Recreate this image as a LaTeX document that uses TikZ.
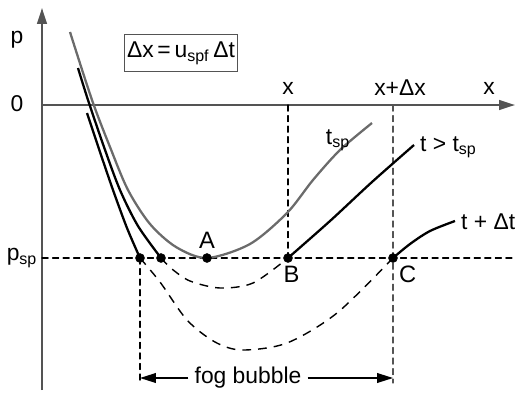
\documentclass[tikz,border=0pt]{standalone}
\usepackage{fontspec}
\setmainfont{Liberation Sans}
\usetikzlibrary{arrows.meta}
\usepackage{tkz-euclide}
\definecolor{AxisClr}{gray}{0.33}
\definecolor{CurveClr}{gray}{0.42}

\begin{document}
\begin{tikzpicture}[x=0.02cm,y=-0.02cm,font=\fontsize{13}{15}\selectfont,
  tip/.style={-{Triangle[length=9pt,width=5.5pt]}},
  dashline/.style={line width=0.6pt,dash pattern=on 3.5pt off 2.5pt},
  dashcurve/.style={line width=0.8pt,dash pattern=on 5pt off 4pt},
  ptlabel/.style={font=\fontsize{13.5}{15}\selectfont}]
\useasboundingbox (0,0) rectangle (515,393);
\tkzSetUpLine[line width=1.3pt,color=black]
\tkzSetUpPoint[fill=black]

\tkzDefPoints{42/390/O,42/8/P,42/105/Z,515/105/X,42/258/S,515/258/T,
  140/258/E,161/258/F,207/258/A,288/258/B,393/258/C,
  288/105/U,393/105/V,140/383/G,393/383/H}

% axes
\draw[AxisClr,line width=1.1pt,tip] (O) -- (P);
\draw[AxisClr,line width=1.1pt,tip] (Z) -- (X);
\node (lp) at (17,40) {p};
\node (l0) at (17,104) {0};
\node (lpsp) at (22,258) {p\textsubscript{sp}};
\node (lx1) at (288,88) {x};
\node (lx2) at (400,88) {x+Δx};
\node (lx3) at (489,88) {x};

% guide lines
\tkzDrawSegments[dashline](S,T U,B E,G)
\tkzDrawSegments[dashline,color=AxisClr](V,H)

% formula box
\node[draw=AxisClr,line width=0.6pt,inner xsep=1.5pt,inner ysep=4pt] (box) at (181,53)
  {Δx\,=\,u\textsubscript{spf}\,Δt};

% curves
\draw[CurveClr,line width=1.3pt] plot[smooth] coordinates
  {(70,32) (92,100) (110,147) (128,190) (150,224) (176,247) (207,258)
   (250,244) (287,213) (313,180) (340,150) (372,123)};
\draw[line width=1.3pt] plot[smooth] coordinates
  {(78,68) (88,100) (104,147) (120,190) (138,226) (161,258)};
\draw[line width=1.3pt] plot[smooth] coordinates
  {(87,113) (100,152) (113,190) (127,228) (140,258)};
\draw[line width=1.3pt] plot[smooth] coordinates
  {(288,258) (330,221) (372,182) (414,145)};
\draw[line width=1.3pt] plot[smooth] coordinates
  {(393,258) (410,244) (430,231) (455,221)};
\draw[dashcurve] plot[smooth] coordinates
  {(161,258) (172,269) (190,281) (220,288) (253,283) (288,258)};
\draw[dashcurve] plot[smooth] coordinates
  {(140,258) (160,282) (187,320) (215,342) (242,350) (287,343)
   (337,313) (393,258)};

\node (ltsp) at (338,140) {t\textsubscript{sp}};
\node[anchor=west] (lt1) at (414,147) {t > t\textsubscript{sp}};
\node[anchor=west] (lt2) at (455,222) {t + Δt};

\tkzDrawPoints[size=5](E,F,A,B,C)
\tkzLabelPoint[above=2pt,ptlabel](A){A}
\tkzLabelPoint[below right=1pt and -6pt,ptlabel](B){B}
\tkzLabelPoint[below right=1pt and 0pt,ptlabel](C){C}

% fog bubble
\node (fog) at (248,378) {fog bubble};
\draw[line width=0.8pt,tip] (fog.west) -- (E |- fog);
\draw[line width=0.8pt,tip] (fog.east) -- (C |- fog);
\end{tikzpicture}
\end{document}
